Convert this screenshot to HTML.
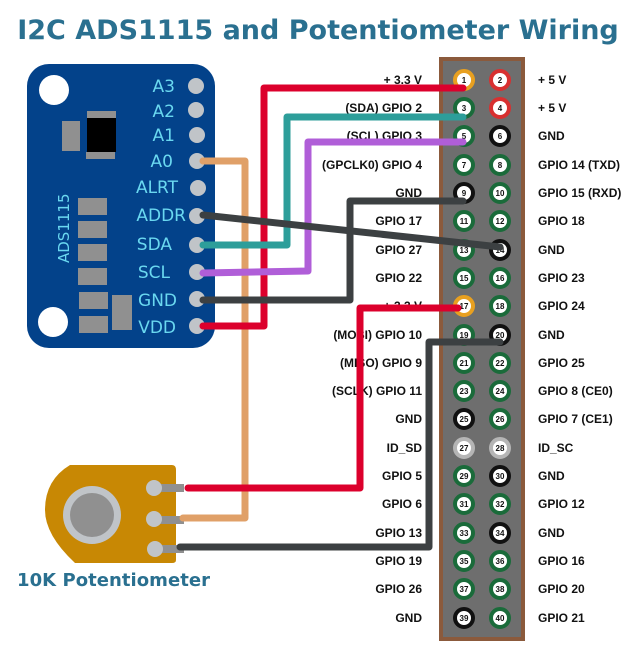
<!DOCTYPE html>
<html><head><meta charset="utf-8"><style>
html,body{margin:0;padding:0;background:#fff;}
svg{display:block;}
</style></head><body>
<svg width="633" height="656" viewBox="0 0 633 656" xmlns="http://www.w3.org/2000/svg" font-family="Liberation Sans, sans-serif">
<text x="318" y="39" text-anchor="middle" font-family="DejaVu Sans, sans-serif" font-weight="bold" font-size="27" fill="#2a7090">I2C ADS1115 and Potentiometer Wiring</text>

<!-- GPIO header -->
<rect x="439" y="57" width="86" height="584" fill="#8b5a3c"/>
<rect x="443" y="61" width="78" height="576" fill="#6e6e6e"/>
<g font-weight="bold" font-size="12" fill="#111">
<g text-anchor="end">
<text x="422" y="84">+ 3.3 V</text><text x="422" y="112">(SDA) GPIO 2</text><text x="422" y="140">(SCL) GPIO 3</text><text x="422" y="169">(GPCLK0) GPIO 4</text><text x="422" y="197">GND</text><text x="422" y="225">GPIO 17</text><text x="422" y="254">GPIO 27</text><text x="422" y="282">GPIO 22</text><text x="422" y="310">+ 3.3 V</text><text x="422" y="339">(MOSI) GPIO 10</text><text x="422" y="367">(MISO) GPIO 9</text><text x="422" y="395">(SCLK) GPIO 11</text><text x="422" y="423">GND</text><text x="422" y="452">ID_SD</text><text x="422" y="480">GPIO 5</text><text x="422" y="508">GPIO 6</text><text x="422" y="537">GPIO 13</text><text x="422" y="565">GPIO 19</text><text x="422" y="593">GPIO 26</text><text x="422" y="622">GND</text>
</g>
<text x="538" y="84">+ 5 V</text><text x="538" y="112">+ 5 V</text><text x="538" y="140">GND</text><text x="538" y="169">GPIO 14 (TXD)</text><text x="538" y="197">GPIO 15 (RXD)</text><text x="538" y="225">GPIO 18</text><text x="538" y="254">GND</text><text x="538" y="282">GPIO 23</text><text x="538" y="310">GPIO 24</text><text x="538" y="339">GND</text><text x="538" y="367">GPIO 25</text><text x="538" y="395">GPIO 8 (CE0)</text><text x="538" y="423">GPIO 7 (CE1)</text><text x="538" y="452">ID_SC</text><text x="538" y="480">GND</text><text x="538" y="508">GPIO 12</text><text x="538" y="537">GND</text><text x="538" y="565">GPIO 16</text><text x="538" y="593">GPIO 20</text><text x="538" y="622">GPIO 21</text>
</g>
<g stroke-width="4" fill="#fff">
<circle cx="464" cy="80" r="9" stroke="#e8a020"/><circle cx="500" cy="80" r="9" stroke="#d83030"/>
<circle cx="464" cy="108" r="9" stroke="#1a6b3a"/><circle cx="500" cy="108" r="9" stroke="#d83030"/>
<circle cx="464" cy="136" r="9" stroke="#1a6b3a"/><circle cx="500" cy="136" r="9" stroke="#111"/>
<circle cx="464" cy="165" r="9" stroke="#1a6b3a"/><circle cx="500" cy="165" r="9" stroke="#1a6b3a"/>
<circle cx="464" cy="193" r="9" stroke="#111"/><circle cx="500" cy="193" r="9" stroke="#1a6b3a"/>
<circle cx="464" cy="221" r="9" stroke="#1a6b3a"/><circle cx="500" cy="221" r="9" stroke="#1a6b3a"/>
<circle cx="464" cy="250" r="9" stroke="#1a6b3a"/><circle cx="500" cy="250" r="9" stroke="#111"/>
<circle cx="464" cy="278" r="9" stroke="#1a6b3a"/><circle cx="500" cy="278" r="9" stroke="#1a6b3a"/>
<circle cx="464" cy="306" r="9" stroke="#e8a020"/><circle cx="500" cy="306" r="9" stroke="#1a6b3a"/>
<circle cx="464" cy="335" r="9" stroke="#1a6b3a"/><circle cx="500" cy="335" r="9" stroke="#111"/>
<circle cx="464" cy="363" r="9" stroke="#1a6b3a"/><circle cx="500" cy="363" r="9" stroke="#1a6b3a"/>
<circle cx="464" cy="391" r="9" stroke="#1a6b3a"/><circle cx="500" cy="391" r="9" stroke="#1a6b3a"/>
<circle cx="464" cy="419" r="9" stroke="#111"/><circle cx="500" cy="419" r="9" stroke="#1a6b3a"/>
<circle cx="464" cy="448" r="9" stroke="#b5b5b5"/><circle cx="500" cy="448" r="9" stroke="#b5b5b5"/>
<circle cx="464" cy="476" r="9" stroke="#1a6b3a"/><circle cx="500" cy="476" r="9" stroke="#111"/>
<circle cx="464" cy="504" r="9" stroke="#1a6b3a"/><circle cx="500" cy="504" r="9" stroke="#1a6b3a"/>
<circle cx="464" cy="533" r="9" stroke="#1a6b3a"/><circle cx="500" cy="533" r="9" stroke="#111"/>
<circle cx="464" cy="561" r="9" stroke="#1a6b3a"/><circle cx="500" cy="561" r="9" stroke="#1a6b3a"/>
<circle cx="464" cy="589" r="9" stroke="#1a6b3a"/><circle cx="500" cy="589" r="9" stroke="#1a6b3a"/>
<circle cx="464" cy="618" r="9" stroke="#111"/><circle cx="500" cy="618" r="9" stroke="#1a6b3a"/>
</g>
<g font-weight="bold" font-size="8" fill="#111" text-anchor="middle">
<text x="464" y="83">1</text><text x="500" y="83">2</text><text x="464" y="111">3</text><text x="500" y="111">4</text><text x="464" y="139">5</text><text x="500" y="139">6</text><text x="464" y="168">7</text><text x="500" y="168">8</text><text x="464" y="196">9</text><text x="500" y="196">10</text><text x="464" y="224">11</text><text x="500" y="224">12</text><text x="464" y="253">13</text><text x="500" y="253">14</text><text x="464" y="281">15</text><text x="500" y="281">16</text><text x="464" y="309">17</text><text x="500" y="309">18</text><text x="464" y="338">19</text><text x="500" y="338">20</text><text x="464" y="366">21</text><text x="500" y="366">22</text><text x="464" y="394">23</text><text x="500" y="394">24</text><text x="464" y="422">25</text><text x="500" y="422">26</text><text x="464" y="451">27</text><text x="500" y="451">28</text><text x="464" y="479">29</text><text x="500" y="479">30</text><text x="464" y="507">31</text><text x="500" y="507">32</text><text x="464" y="536">33</text><text x="500" y="536">34</text><text x="464" y="564">35</text><text x="500" y="564">36</text><text x="464" y="592">37</text><text x="500" y="592">38</text><text x="464" y="621">39</text><text x="500" y="621">40</text>
</g>

<!-- ADS1115 board -->
<rect x="27" y="64" width="188" height="284" rx="22" fill="#03428a"/>
<circle cx="54" cy="90" r="15" fill="#fff"/>
<circle cx="53" cy="322" r="15" fill="#fff"/>
<rect x="62" y="121" width="18" height="30" fill="#909090"/>
<rect x="87" y="111" width="29" height="7" fill="#909090"/>
<rect x="87" y="118" width="29" height="34" fill="#000"/>
<rect x="86" y="152" width="29" height="7" fill="#909090"/>
<g fill="#909090">
<rect x="78" y="198" width="29" height="17"/><rect x="78" y="221" width="29" height="17"/><rect x="78" y="244" width="29" height="17"/><rect x="78" y="268" width="29" height="17"/><rect x="79" y="292" width="29" height="17"/><rect x="79" y="316" width="29" height="17"/><rect x="112" y="295" width="20" height="35"/>
</g>
<text transform="translate(69,263) rotate(-90)" font-size="15" fill="#6ad8f0" font-family="DejaVu Sans, sans-serif">ADS1115</text>
<g fill="#6ad8f0" font-size="17" text-anchor="end" font-family="DejaVu Sans, sans-serif">
<text x="175" y="92">A3</text><text x="175" y="117">A2</text><text x="175" y="141">A1</text><text x="173" y="167">A0</text><text x="178" y="193">ALRT</text><text x="186" y="221">ADDR</text><text x="172" y="250">SDA</text><text x="170" y="278">SCL</text><text x="177" y="306">GND</text><text x="176" y="333">VDD</text>
</g>
<g fill="#c0c4c8">
<circle cx="196" cy="86" r="8"/><circle cx="196" cy="110" r="8"/><circle cx="197" cy="135" r="8"/><circle cx="197" cy="161" r="8"/><circle cx="198" cy="188" r="8"/><circle cx="197" cy="216" r="8"/><circle cx="197" cy="245" r="8"/><circle cx="197" cy="272" r="8"/><circle cx="197" cy="299" r="8"/><circle cx="197" cy="326" r="8"/>
</g>

<!-- Potentiometer -->
<path d="M70,465 L172,465 Q176,465 176,470 L176,560 Q176,563 172,563 L75,563 Q45,535 45,510 Q45,480 70,465 Z" fill="#c88804"/>
<circle cx="92" cy="515" r="29" fill="#c0c4c8"/>
<circle cx="92" cy="515" r="22" fill="#909090"/>
<g fill="#909090"><rect x="158" y="484" width="26" height="8"/><rect x="158" y="516" width="26" height="8"/><rect x="158" y="545" width="26" height="8"/></g>
<g fill="#c0c4c8"><circle cx="154" cy="488" r="8"/><circle cx="154" cy="519" r="8"/><circle cx="155" cy="549" r="8"/></g>
<text x="17" y="586" font-family="DejaVu Sans, sans-serif" font-weight="bold" font-size="18" fill="#2a7090" textLength="193">10K Potentiometer</text>

<!-- wires -->
<g fill="none" stroke-width="7" stroke-linejoin="round" stroke-linecap="round">
<polyline points="203,161 245,161 245,518 183,518" stroke="#e0a068"/>
<polyline points="203,326 264,326 264,88 463,88" stroke="#dc002c"/>
<polyline points="203,245 287,245 287,117 463,117" stroke="#2d9e9a"/>
<polyline points="203,273 308,271 308,142 463,142" stroke="#b05ed8"/>
<polyline points="203,215 500,247" stroke="#3c4042"/>
<polyline points="203,300 350,300 350,201 463,201" stroke="#3c4042"/>
<polyline points="188,488 360,488 360,308 458,308" stroke="#dc002c"/>
<polyline points="180,547 429,547 429,342 500,342" stroke="#3c4042"/>
</g>
</svg>
</body></html>
